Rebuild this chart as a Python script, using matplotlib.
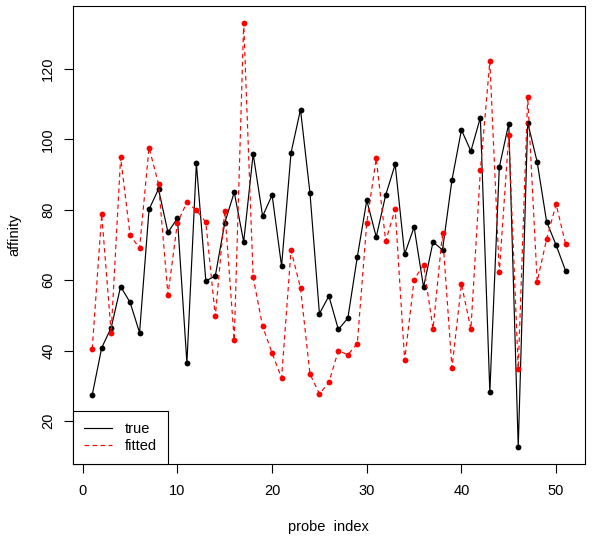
import matplotlib
matplotlib.use("Agg")
import matplotlib.pyplot as plt

plt.rcParams['font.family'] = ['Liberation Sans', 'DejaVu Sans']

probe_index = list(range(1, 52))
true_vals = [27.4, 40.8, 46.5, 58.2, 53.7, 45.1, 80.1, 85.9, 73.6, 77.6,
             36.5, 93.2, 59.8, 61.2, 76.3, 85.0, 70.9, 95.9, 78.2, 84.2,
             64.0, 96.2, 108.5, 84.8, 50.5, 55.5, 46.0, 49.2, 66.6, 82.7,
             72.3, 84.2, 92.9, 67.4, 75.1, 58.0, 70.9, 68.6, 88.5, 102.7,
             96.7, 106.2, 28.2, 92.1, 104.5, 12.6, 104.8, 93.6, 76.6, 70.0,
             62.7]
fitted_vals = [40.5, 78.7, 45.1, 94.9, 72.8, 69.1, 97.7, 87.4, 55.9, 76.4,
               82.1, 79.9, 76.5, 49.7, 79.8, 42.9, 133.1, 60.8, 46.9, 39.3,
               32.2, 68.5, 57.8, 33.4, 27.7, 31.0, 40.0, 38.8, 42.0, 76.3,
               94.6, 71.1, 80.2, 37.2, 60.2, 64.4, 46.2, 73.3, 35.1, 58.9,
               46.1, 91.2, 122.2, 62.2, 101.2, 34.8, 112.1, 59.6, 71.7, 81.6,
               70.3]
x_ticks = [0, 10, 20, 30, 40, 50]
y_ticks = [20, 40, 60, 80, 100, 120]

FS = 10.5
fig = plt.figure(figsize=(6, 5.44), dpi=100)
ax = fig.add_axes([73.3/600, 1 - 464/544, (584.5-73.3)/600, (464-6)/544])

dash = (0, (3.8, 3.0))
ax.plot(probe_index, true_vals, color='black', lw=0.85, label='true')
ax.plot(probe_index, true_vals, 'o', color='black', ms=4.2, mec='none')
ax.plot(probe_index, fitted_vals, color='red', lw=0.85, ls=dash, label='fitted')
ax.plot(probe_index, fitted_vals, 'o', color='red', ms=4.2, mec='none')

def ext(lo, hi):
    r = hi - lo
    return lo - 0.04*r, hi + 0.04*r

ax.set_xlim(*ext(min(probe_index), max(probe_index)))
ax.set_ylim(*ext(min(min(true_vals), min(fitted_vals)), max(max(true_vals), max(fitted_vals))))
ax.set_xticks(x_ticks)
ax.set_yticks(y_ticks)
ax.tick_params(direction='out', length=6.5, width=0.8, labelsize=FS)
ax.tick_params(axis='x', pad=8)
ax.tick_params(axis='y', pad=6.5)
for lab in ax.get_yticklabels():
    lab.set_rotation(90)
    lab.set_va('center')
for s in ax.spines.values():
    s.set_linewidth(0.8)
ax.set_xlabel('probe  index', fontsize=FS, labelpad=16)
ax.set_ylabel('affinity', fontsize=FS, labelpad=14)

leg = ax.legend(loc='lower left', bbox_to_anchor=(0, 0), borderaxespad=0,
                fancybox=False, edgecolor='black', fontsize=FS,
                handlelength=1.9, handletextpad=0.9, borderpad=0.75,
                labelspacing=0.2, framealpha=1)
leg.get_frame().set_linewidth(0.8)

fig.savefig('out.png', dpi=100)
